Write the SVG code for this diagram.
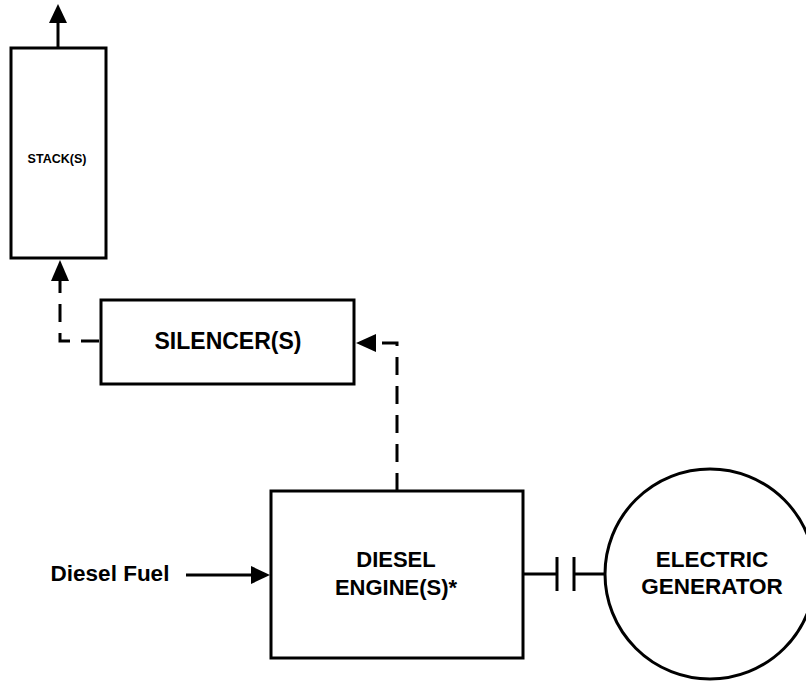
<svg xmlns="http://www.w3.org/2000/svg" width="806" height="681" viewBox="0 0 806 681">
<style>
.box{fill:#fff;stroke:#000;stroke-width:3}
.ln{fill:none;stroke:#000;stroke-width:3}
.dash{fill:none;stroke:#000;stroke-width:3;stroke-dasharray:18 11}
.t{font-family:"Liberation Sans",Arial,sans-serif;font-weight:bold;fill:#000;text-anchor:middle}
</style>
<defs>
<marker id="ah" markerWidth="8" markerHeight="8" refX="7" refY="4" orient="auto" markerUnits="userSpaceOnUse" viewBox="0 0 8 8">
<path d="M0,0 L8,4 L0,8 Z" fill="#000"/>
</marker>
</defs>
<rect width="806" height="681" fill="#fff"/>
<g id="connectors">
<line class="ln" x1="58" y1="48" x2="58" y2="22"/>
<path d="M49,23 L58,4 L67,23 Z" fill="#000"/>
<path class="dash" d="M99,341 L60,341 L60,280"/>
<path d="M51,281 L60,260 L69,281 Z" fill="#000"/>
<path class="dash" d="M397,491 L397,343 L377,343"/>
<path d="M376,334 L356,343 L376,352 Z" fill="#000"/>
<line class="ln" x1="186" y1="575" x2="252" y2="575"/>
<path d="M251,566 L270,575 L251,584 Z" fill="#000"/>
<line class="ln" x1="523" y1="574" x2="557" y2="574"/>
<line class="ln" x1="557" y1="557" x2="557" y2="591"/>
<line class="ln" x1="574" y1="557" x2="574" y2="591"/>
<line class="ln" x1="574" y1="574" x2="605" y2="574"/>
</g>
<g id="stack">
<rect class="box" x="11" y="48" width="95" height="210"/>
<text class="t" x="57" y="163" font-size="12.5">STACK(S)</text>
</g>
<g id="silencer">
<rect class="box" x="101" y="300" width="253" height="84"/>
<text class="t" x="228" y="349" font-size="23">SILENCER(S)</text>
</g>
<g id="engine">
<rect class="box" x="271" y="491" width="252" height="167"/>
<text class="t" x="396" y="567" font-size="22">DIESEL</text>
<text class="t" x="396" y="595" font-size="22">ENGINE(S)*</text>
</g>
<g id="fuel">
<text class="t" x="110" y="581" font-size="22.5">Diesel Fuel</text>
</g>
<g id="generator">
<circle class="box" cx="710" cy="574" r="105"/>
<text class="t" x="712" y="567" font-size="22.5">ELECTRIC</text>
<text class="t" x="712" y="594" font-size="22.5">GENERATOR</text>
</g>
</svg>
